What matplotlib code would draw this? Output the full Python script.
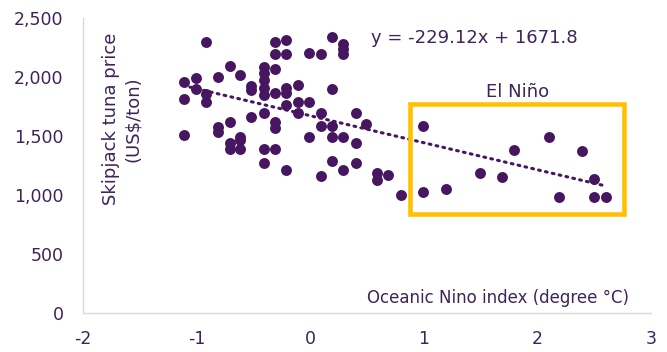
import matplotlib
matplotlib.use("Agg")
import matplotlib.pyplot as plt
from matplotlib.patches import Rectangle
import numpy as np

# Oceanic Nino index (°C) vs skipjack tuna price (US$/ton)
oni = [-0.92, -0.31, -0.21, -0.31, -0.21, 0.19, 0.29, 0.29, 0.29, -0.01, 0.09,
       -1.11, -1.01, -1.01, -1.11, -0.92, -0.92, -0.71, -0.81, -0.62, -0.52, -0.52,
       -0.41, -0.41, -0.41, -0.41, -0.41, -0.31, -0.31, -0.21, -0.21, -0.11, 0.19,
       -0.11, -0.01, -0.21, -0.11, -0.41, -0.52, 0.09, 0.40, 0.49, 0.09, 0.19,
       -0.31, -0.31, -0.71, -0.81, -0.81, -1.11, -0.01, 0.19, 0.29, 0.40, -0.71,
       -0.62, -0.62, -0.62, -0.71, -0.41, -0.31, -0.41, -0.21, 0.09, 0.19, 0.29,
       0.40, 0.59, 0.59, 0.68, 0.80, 0.99, 0.99, 1.19, 1.49, 1.69, 1.79, 2.10,
       2.39, 2.19, 2.50, 2.50, 2.60]
price = [2297, 2300, 2315, 2192, 2192, 2336, 2280, 2235, 2192, 2206, 2192,
         1960, 1989, 1896, 1814, 1856, 1791, 2096, 2003, 2017, 1924, 1890,
         2088, 2031, 1974, 1904, 1848, 2065, 1867, 1904, 1867, 1932, 1896,
         1791, 1791, 1763, 1692, 1692, 1664, 1698, 1692, 1602, 1585, 1585,
         1621, 1565, 1616, 1579, 1537, 1509, 1494, 1489, 1494, 1445, 1438,
         1494, 1466, 1387, 1387, 1387, 1387, 1268, 1212, 1161, 1291, 1212,
         1268, 1184, 1127, 1170, 1000, 1588, 1023, 1051, 1184, 1155, 1381, 1492,
         1373, 983, 1133, 983, 983]

# Linear trend reported on the chart
slope, intercept = -229.12, 1671.8
trend_x = [-1.06, 2.60]

# El Niño window
nino_x = [0.877, 2.763]
nino_y = [839, 1771]

x_ticks = [-2, -1, 0, 1, 2, 3]
y_ticks = [0, 500, 1000, 1500, 2000, 2500]

point_color = "#461760"
text_color = "#3D2459"
box_color = "#FFC000"
spine_color = "#D9D9D9"

plt.rcParams["font.family"] = ["DejaVu Sans"]

fig = plt.figure(figsize=(6.67, 3.52), dpi=100)
ax = fig.add_axes([0.1245, 0.1108, 0.852, 0.838])

ax.scatter(oni, price, s=62, color=point_color, zorder=3, linewidths=0)

tx = np.array(trend_x)
ax.plot(tx, slope * tx + intercept, color=point_color, lw=2.2,
        linestyle=(0, (0.6, 1.7)), dash_capstyle="round", zorder=2)

ax.add_patch(Rectangle((nino_x[0], nino_y[0]), nino_x[1] - nino_x[0],
                       nino_y[1] - nino_y[0], fill=False,
                       edgecolor=box_color, lw=3.3, zorder=4))

ax.set_xlim(-2, 3)
ax.set_ylim(0, 2500)
ax.set_xticks(x_ticks)
ax.set_yticks(y_ticks)
ax.set_xticklabels([str(v) for v in x_ticks])
ax.set_yticklabels([f"{v:,}" for v in y_ticks])
ax.tick_params(axis="both", length=0, labelsize=12.5, colors=text_color)
ax.tick_params(axis="y", pad=14)
ax.tick_params(axis="x", pad=12)

for side in ("top", "right"):
    ax.spines[side].set_visible(False)
for side in ("left", "bottom"):
    ax.spines[side].set_color(spine_color)
    ax.spines[side].set_linewidth(1.0)

ax.text(0.53, 2331, "y = -229.12x + 1671.8", fontsize=13, color=text_color,
        ha="left", va="center")
ax.text(1.82, 1873, "El Niño", fontsize=13, color=text_color,
        ha="center", va="center")
ax.text(2.80, 127, "Oceanic Nino index (degree °C)", fontsize=12,
        color=text_color, ha="right", va="center")
ax.text(-1.66, 1644, "Skipjack tuna price\n(US$/ton)", fontsize=13,
        color=text_color, rotation=90, ha="center", va="center",
        multialignment="center", linespacing=1.3)

fig.savefig("out.png", dpi=100)
